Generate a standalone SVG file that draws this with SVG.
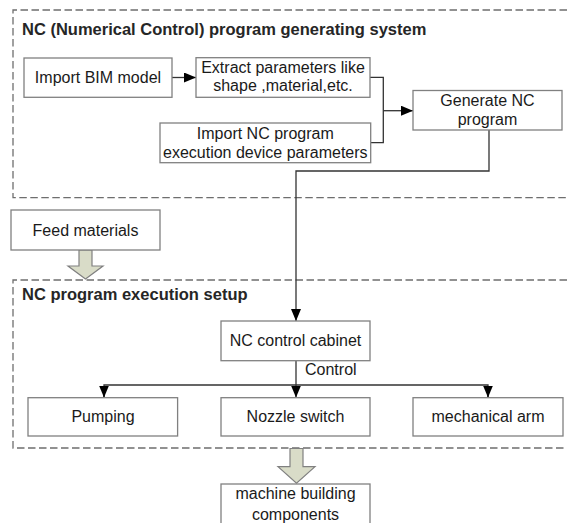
<svg xmlns="http://www.w3.org/2000/svg" width="567" height="523" viewBox="0 0 567 523">
<style>
  .box { fill: #ffffff; stroke: #808080; stroke-width: 1.3; }
  .dash { fill: none; stroke: #6e6e6e; stroke-width: 1.3; stroke-dasharray: 7.5 3.5; }
  .conn { fill: none; stroke: #333333; stroke-width: 1.3; }
  .fat { fill: #d9dcc8; stroke: #808080; stroke-width: 1.2; }
  .t { font-family: "Liberation Sans", Arial, sans-serif; font-size: 16px; fill: #1a1a1a; text-anchor: middle; }
  .title { font-family: "Liberation Sans", Arial, sans-serif; font-weight: bold; font-size: 16.5px; fill: #262626; }
</style>
<defs>
  <marker id="ah" markerUnits="userSpaceOnUse" markerWidth="12" markerHeight="10" refX="12" refY="5" orient="auto">
    <path d="M0,0 L12,5 L0,10 Z" fill="#000000"/>
  </marker>
</defs>

<g id="group-generating">
  <path class="dash" d="M567,10 H13 V197.7 H567"/>
  <text class="title" x="22" y="35">NC (Numerical Control) program generating system</text>
</g>
<g id="group-execution">
  <path class="dash" d="M567,280 H13 V448 H567"/>
  <text class="title" x="22" y="300">NC program execution setup</text>
</g>

<g id="connectors">
  <line class="conn" x1="172" y1="77.5" x2="196" y2="77.5" marker-end="url(#ah)"/>
  <path class="conn" d="M370,77.3 H383.3 V142.7 H370.7"/>
  <line class="conn" x1="383.3" y1="110.7" x2="413" y2="110.7" marker-end="url(#ah)"/>
  <path class="conn" d="M489,130 V171 H296 V321" marker-end="url(#ah)"/>
  <line class="conn" x1="296" y1="361" x2="296" y2="397.5" marker-end="url(#ah)"/>
  <path class="conn" d="M104,397.5 V385 H488 V397.5"/>
  <line class="conn" x1="104" y1="390" x2="104" y2="397.5" marker-end="url(#ah)"/>
  <line class="conn" x1="488" y1="390" x2="488" y2="397.5" marker-end="url(#ah)"/>
  <path class="fat" d="M79,250 H92 V266 H103 L85.5,279 L68,266 H79 Z"/>
  <path class="fat" d="M290,448.5 H303 V466.7 H315 L296.5,483.3 L278,466.7 H290 Z"/>
</g>

<g id="node-import-bim">
  <rect class="box" x="24" y="58" width="148" height="39.3"/>
  <text class="t" x="98" y="83">Import BIM model</text>
</g>
<g id="node-extract">
  <rect class="box" x="196" y="57.7" width="174" height="39.6"/>
  <text class="t" x="283" y="73">Extract parameters like</text>
  <text class="t" x="283" y="91">shape ,material,etc.</text>
</g>
<g id="node-import-nc">
  <rect class="box" x="160" y="123" width="210.7" height="39.7"/>
  <text class="t" x="265.3" y="138.5">Import NC program</text>
  <text class="t" x="265.3" y="157.5">execution device parameters</text>
</g>
<g id="node-generate">
  <rect class="box" x="413" y="90.5" width="149" height="39.5"/>
  <text class="t" x="487.5" y="106">Generate NC</text>
  <text class="t" x="487.5" y="124.5">program</text>
</g>
<g id="node-feed">
  <rect class="box" x="11" y="210" width="149" height="40"/>
  <text class="t" x="85.5" y="235.5">Feed materials</text>
</g>
<g id="node-cabinet">
  <rect class="box" x="221" y="321" width="149" height="39.7"/>
  <text class="t" x="295.5" y="346">NC control cabinet</text>
</g>
<text class="t" x="305" y="375" style="text-anchor:start">Control</text>
<g id="node-pumping">
  <rect class="box" x="28" y="397.7" width="149.6" height="38.3"/>
  <text class="t" x="103" y="422">Pumping</text>
</g>
<g id="node-nozzle">
  <rect class="box" x="221" y="397.7" width="149" height="38.3"/>
  <text class="t" x="295.5" y="422">Nozzle switch</text>
</g>
<g id="node-arm">
  <rect class="box" x="413" y="397.7" width="150" height="38.3"/>
  <text class="t" x="488" y="422">mechanical arm</text>
</g>
<g id="node-machine">
  <rect class="box" x="221" y="484" width="149" height="45"/>
  <text class="t" x="295.5" y="499">machine building</text>
  <text class="t" x="295.5" y="520">components</text>
</g>
</svg>
